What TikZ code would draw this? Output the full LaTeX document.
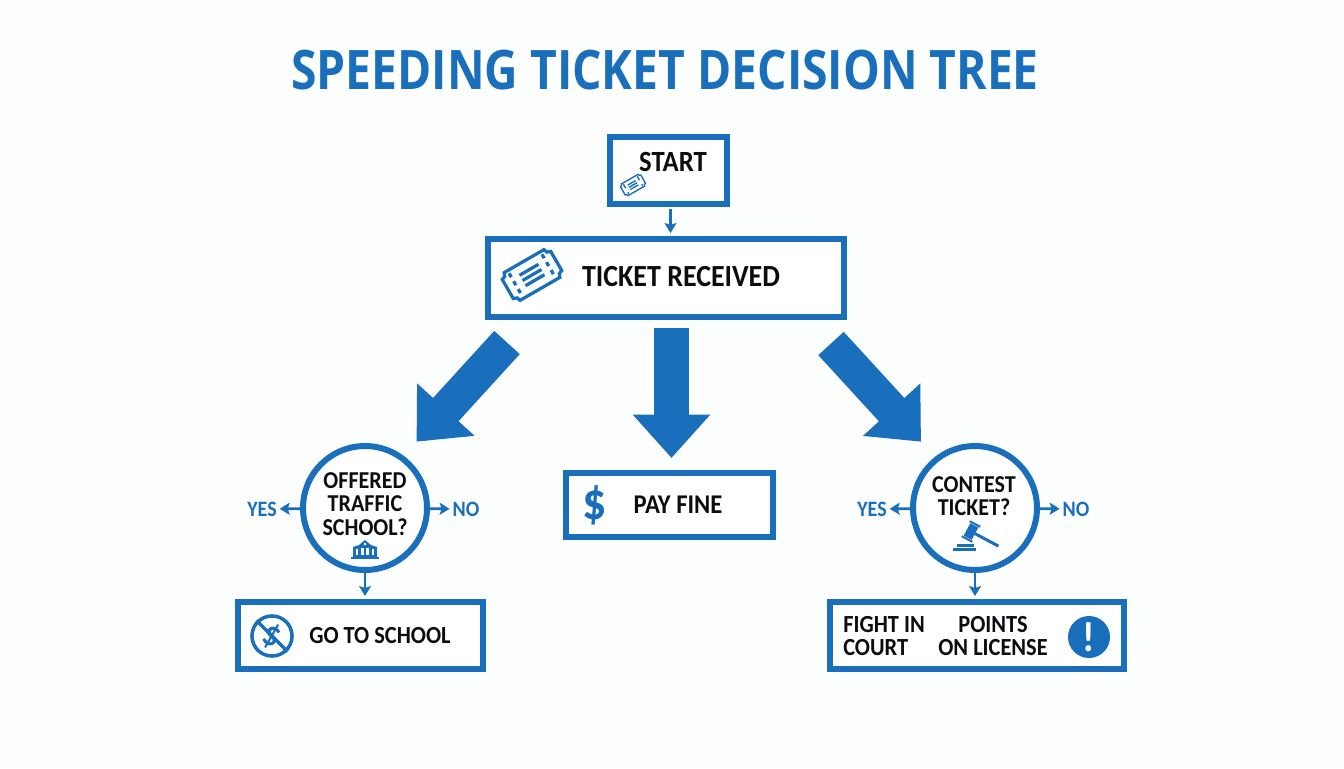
\documentclass[tikz,border=0pt]{standalone}
\usepackage{fontspec}
\setmainfont[FakeStretch=0.91]{Carlito}
\newfontfamily\titlefont[FakeStretch=0.85]{Open Sans}
\usetikzlibrary{arrows.meta,positioning}
\definecolor{ticketblue}{HTML}{1A6FBC}
\definecolor{inkblack}{HTML}{0B0D10}
\definecolor{paper}{HTML}{FDFEFE}
% one unit is one pixel of the reference
\tikzset{
    x=0.02cm, y=-0.02cm,
    boxnode/.style={draw=ticketblue, line width=0.12cm, fill=white, inner sep=0pt},
    asknode/.style={boxnode, circle, minimum size=2.48cm},
    label/.style={text=inkblack, font=\bfseries\fontsize{17.5}{13.6}\selectfont, align=center, inner sep=0pt},
    smalllabel/.style={label, font=\bfseries\fontsize{14}{13.6}\selectfont},
    asklabel/.style={label, font=\bfseries\fontsize{13.8}{13.2}\selectfont},
    answer/.style={text=ticketblue, font=\bfseries\fontsize{12.5}{12.5}\selectfont, inner sep=1.5pt},
    thinarrow/.style={draw=ticketblue, line width=0.055cm, -{Stealth[length=0.2cm,width=0.24cm,inset=0.04cm]}},
    bigarrow/.style={draw=ticketblue, line width=0.69cm, -{Triangle[length=0.87cm,width=1.5cm,fill=ticketblue]}},
    icon/.style={draw=ticketblue, line cap=butt}
}
\newcommand{\ticketicon}[4]{%
    \begin{scope}[shift={(#1,#2)},rotate=30,scale=#3,icon,line width=#4]
        \draw (-23,-16) -- (23,-16) .. controls (23,-13) and (25,-11) .. (28,-11) -- (28,11)
            .. controls (25,11) and (23,13) .. (23,16) -- (-23,16)
            .. controls (-23,13) and (-25,11) .. (-28,11) -- (-28,-11)
            .. controls (-25,-11) and (-23,-13) .. (-23,-16) -- cycle;
        \draw[dash pattern=on 2.6 off 2.6] (-19,-13) -- (-19,13);
        \draw[dash pattern=on 2.6 off 2.6] (19,-13) -- (19,13);
        \draw (-11,-6) -- (11,-6);
        \draw (-11,0) -- (11,0);
        \draw (-11,6) -- (11,6);
    \end{scope}}
\begin{document}
\begin{tikzpicture}
    \useasboundingbox[fill=paper] (0,0) rectangle (1344,768);

    \node[text=ticketblue, font=\titlefont\bfseries\fontsize{31}{31}\selectfont, inner sep=0pt] (title) at (665,70) {SPEEDING TICKET DECISION TREE};

    % boxes
    \node[boxnode, minimum width=2.34cm, minimum height=1.34cm] (start) at (668.5,170.5) {};
    \node[boxnode, minimum width=7.12cm, minimum height=1.56cm] (received) at (666,278) {};
    \node[boxnode, minimum width=4.14cm, minimum height=1.28cm] (payfine) at (669.5,505) {};
    \node[boxnode, minimum width=4.9cm, minimum height=1.34cm] (school) at (360.5,635.5) {};
    \node[boxnode, minimum width=5.88cm, minimum height=1.34cm] (court) at (977,635.5) {};
    \node[asknode] (offered) at (365,508) {};
    \node[asknode] (contest) at (975,508) {};

    % labels
    \node[label, font=\bfseries\fontsize{16.7}{16.7}\selectfont] (startlabel) at (673,162) {START};
    \node[label] (receivedlabel) at (681,277) {TICKET RECEIVED};
    \node[label, font=\bfseries\fontsize{15.4}{15.4}\selectfont] (paylabel) at (678,505) {PAY FINE};
    \node[smalllabel] (schoollabel) at (380,636) {GO TO SCHOOL};
    \node[asklabel] (offeredlabel) at (365,504) {OFFERED\\TRAFFIC\\SCHOOL?};
    \node[asklabel] (contestlabel) at (974,496.5) {CONTEST\\TICKET?};
    \node[smalllabel, align=left] (fightlabel) at (884,636) {FIGHT IN\\COURT};
    \node[smalllabel] (pointslabel) at (993,636) {POINTS\\ON LICENSE};
    \node[answer] (yesoffered) at (262,509) {YES};
    \node[answer] (nooffered) at (466,509) {NO};
    \node[answer] (yescontest) at (872,509) {YES};
    \node[answer] (nocontest) at (1076,509) {NO};

    % thin arrows
    \draw[thinarrow, shorten <=0.04cm, shorten >=0.06cm] ([xshift=0.04cm]start.south) -- ([xshift=0.04cm]start.south |- received.north);
    \draw[thinarrow] (offered) -- (yesoffered);
    \draw[thinarrow] (offered) -- (nooffered);
    \draw[thinarrow] (contest) -- (yescontest);
    \draw[thinarrow] (contest) -- (nocontest);
    \draw[thinarrow, shorten >=0.06cm] (offered) -- (school.north -| offered);
    \draw[thinarrow, shorten >=0.06cm] (contest) -- (court.north -| contest);

    % big arrows
    \coordinate (leftfrom) at (507,342.5);
    \coordinate (leftto) at (416.5,441.7);
    \coordinate (midfrom) at (671.5,328);
    \coordinate (midto) at (671.5,458);
    \coordinate (rightfrom) at (831,343.5);
    \coordinate (rightto) at (921,441.7);
    \draw[bigarrow] (leftfrom) -- (leftto);
    \draw[bigarrow] (midfrom) -- (midto);
    \draw[bigarrow] (rightfrom) -- (rightto);

    % icons
    \ticketicon{633}{185}{0.42}{0.028cm}
    \ticketicon{532}{275}{1}{0.065cm}

    \node[text=ticketblue, font=\bfseries\fontsize{30}{30}\selectfont, inner sep=0pt] (dollar) at (595,505) {\$};

    \node[circle, draw=ticketblue, line width=0.07cm, minimum size=0.78cm, inner sep=0pt, text=ticketblue, font=\bfseries\fontsize{20}{20}\selectfont] (nodollar) at (272,636) {\rotatebox{-25}{\$}};
    \draw[ticketblue, line width=0.07cm] (nodollar.135) -- (nodollar.315);

    \node[circle, fill=ticketblue, minimum size=0.84cm, inner sep=0pt, text=white, font=\bfseries\fontsize{24}{24}\selectfont] (warning) at (1089,637) {!};

    % school building
    \begin{scope}[shift={(365,550)}]
        \fill[ticketblue] (-14,7) rectangle (14,9);
        \fill[ticketblue] (-12,-3) -- (-6,-5) -- (0,-10) -- (6,-5) -- (12,-3) -- (12,7) -- (-12,7) -- cycle;
        \fill[white] (-9,-1) rectangle (-7,5);
        \fill[white] (7,-1) rectangle (9,5);
        \fill[white] (-4,-2) rectangle (-1.2,5);
        \fill[white] (1.2,-2) rectangle (4,5);
        \fill[white] (0,-6) circle (1.3);
    \end{scope}

    % gavel
    \fill[ticketblue] (953,547.5) rectangle (976,551);
    \fill[ticketblue] (957,543.5) rectangle (974,546.5);
    \begin{scope}[shift={(971,531.5)},rotate=-28]
        \fill[ticketblue] (-4.5,-7) rectangle (4.5,7);
        \fill[ticketblue] (-6,-9.5) rectangle (6,-7.5);
        \fill[ticketblue] (-6,7.5) rectangle (6,9.5);
        \fill[ticketblue] (4.5,-1.5) rectangle (31,1.5);
    \end{scope}
\end{tikzpicture}
\end{document}
